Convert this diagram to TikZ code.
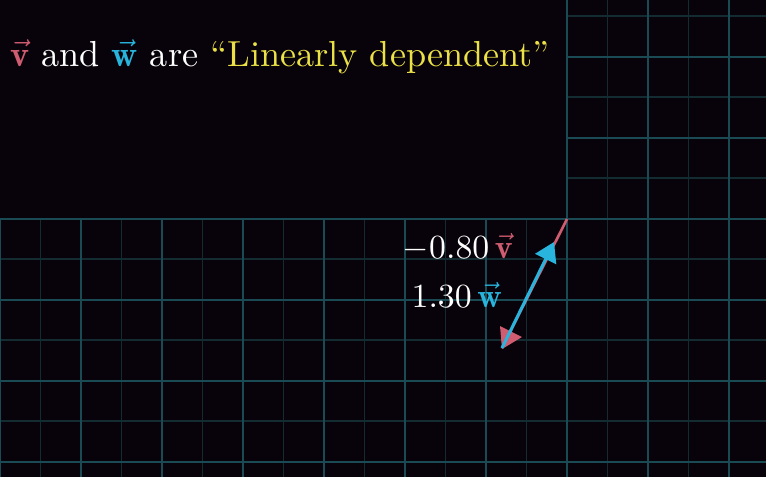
\documentclass[tikz,border=0pt]{standalone}
\usepackage{amsmath}
\usepackage{graphicx}
\usepackage{fontspec}
\usetikzlibrary{arrows.meta}
\definecolor{bg}{RGB}{8,3,10}
\definecolor{gridmajor}{RGB}{26,74,84}
\definecolor{gridminor}{RGB}{18,44,50}
\definecolor{vred}{RGB}{207,92,112}
\definecolor{wblue}{RGB}{40,180,220}
\definecolor{tyellow}{RGB}{235,225,70}
\newcommand{\titletxt}[1]{\scalebox{3.62}{#1}}
\newcommand{\labeltxt}[1]{\scalebox{3.38}{#1}}
\tikzset{
  majorline/.style={draw=gridmajor, line width=2.8pt},
  minorline/.style={draw=gridminor, line width=1.8pt},
  vvec/.style={draw=vred, line width=2.6pt},
  wvec/.style={draw=wblue, line width=3pt, -{Triangle[length=19pt,width=23pt]}},
  bigtext/.style={text=white, inner sep=0pt},
}
\begin{document}
\begin{tikzpicture}[x=1pt,y=-1pt]
\useasboundingbox (0,0) rectangle (766,477);
\fill[bg] (0,0) rectangle (766,477);
% minor grid lines
\foreach \x in {40.5,121.5,202.5,283.5,364.5,445.5,526.5,607.5,688.5,769.5}
  \draw[minorline] (\x,0) -- (\x,477);
\foreach \y in {16,97,178,259,340,421}
  \draw[minorline] (0,\y) -- (766,\y);
% major grid lines
\foreach \x in {0,81,162,243,324,405,486,567,648,729}
  \draw[majorline] (\x,0) -- (\x,477);
\foreach \y in {57,138,219,300,381,462}
  \draw[majorline] (0,\y) -- (766,\y);
% black panel for the title
\fill[bg] (-2,-2) rectangle (565.8,217.8);
% title
\node[bigtext, anchor=base west] (title) at (10,66)
  {\titletxt{\textcolor{vred}{$\vec{\mathbf{v}}$} and \textcolor{wblue}{$\vec{\mathbf{w}}$} are \textcolor{tyellow}{``Linearly dependent''}}};
% labels
\node[bigtext, anchor=base east] (vlabel) at (513,258)
  {\labeltxt{$-0.80\,$\textcolor{vred}{$\vec{\mathbf{v}}$}}};
\node[bigtext, anchor=base east] (wlabel) at (502,307)
  {\labeltxt{$1.30\,$\textcolor{wblue}{$\vec{\mathbf{w}}$}}};
% vectors
\coordinate (O) at (567,219);
\coordinate (R) at (502,348);
\coordinate (B) at (554,242);
\draw[vvec] (O) -- (R);
\fill[vred] (500,326) -- (522,337) -- (502,349) -- cycle;
\draw[wvec] (R) -- (B);
\end{tikzpicture}
\end{document}
